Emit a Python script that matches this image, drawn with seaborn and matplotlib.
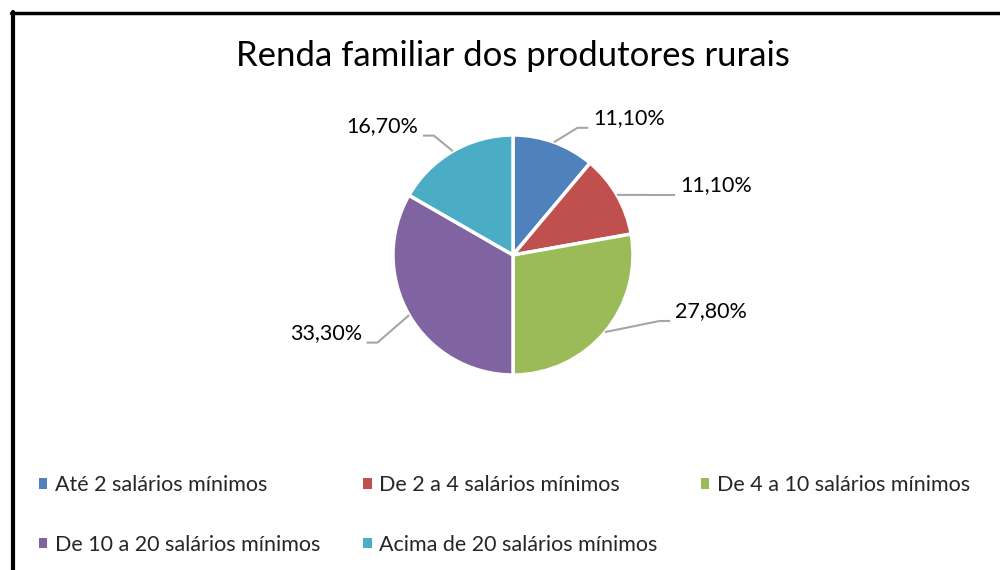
import numpy as np
import matplotlib.pyplot as plt
import seaborn as sns
from matplotlib.patches import Patch
from matplotlib.lines import Line2D

categories = [
    "Até 2 salários mínimos",
    "De 2 a 4 salários mínimos",
    "De 4 a 10 salários mínimos",
    "De 10 a 20 salários mínimos",
    "Acima de 20 salários mínimos",
]
percentages = [11.1, 11.1, 27.8, 33.3, 16.7]
value_labels = ["11,10%", "11,10%", "27,80%", "33,30%", "16,70%"]
colors = ["#4F81BD", "#C0504D", "#9BBB59", "#8064A2", "#4BACC6"]

# label anchor (x, y) in pie-radius units, and which side the text sits on
label_pos = [(0.667, 1.14), (1.39, 0.58), (1.35, -0.47), (-1.26, -0.65), (-0.79, 1.075)]

sns.set_theme(style="white")
plt.rcParams["font.family"] = ["Lato", "DejaVu Sans"]

fig = plt.figure(figsize=(10, 5.7), dpi=100)
ax = fig.add_axes([0.213, 75 / 570, 0.6, 480 / 570])

wedges, _ = ax.pie(
    percentages,
    colors=colors,
    startangle=90,
    counterclock=False,
    radius=1,
    wedgeprops=dict(edgecolor="white", linewidth=2.5),
)
ax.set_xlim(-2.5, 2.5)
ax.set_ylim(-2, 2)
ax.set_aspect("equal")
ax.axis("off")

# data labels with leader lines
for w, lab, (tx, ty) in zip(wedges, value_labels, label_pos):
    mid = np.deg2rad((w.theta1 + w.theta2) / 2)
    ex, ey = np.cos(mid), np.sin(mid)
    side = 1 if tx > 0 else -1
    ly = ty - 0.08
    end_x = tx - side * 0.04
    knee_x = end_x - side * 0.09
    ax.plot([ex, knee_x, end_x], [ey, ly, ly], color="#A6A6A6", lw=1.5,
            solid_capstyle="butt")
    ax.text(tx, ty, lab, fontsize=15.5, ha="left" if side > 0 else "right",
            va="center", color="black")

fig.suptitle("Renda familiar dos produtores rurais", fontsize=25, y=0.93,
             x=0.513, color="black")

# legend, row-major order for 3 columns
handles = [Patch(facecolor=c, edgecolor="none") for c in colors]
order = [0, 3, 1, 4, 2]
fig.legend(
    [handles[i] for i in order],
    [categories[i] for i in order],
    ncol=3,
    loc="upper left",
    bbox_to_anchor=(0.03, 0.182),
    bbox_transform=fig.transFigure,
    frameon=False,
    fontsize=15.5,
    handlelength=0.4,
    handleheight=0.4,
    handletextpad=0.35,
    columnspacing=2.0,
    labelspacing=1.85,
    borderaxespad=0,
)

# chart border (left and top edges visible in the crop)
fig.add_artist(Line2D([0.013, 0.013], [0, 1 - 12 / 570], transform=fig.transFigure,
                      color="black", lw=3))
fig.add_artist(Line2D([0.011, 1], [1 - 13 / 570, 1 - 13 / 570], transform=fig.transFigure,
                      color="black", lw=2.5))

fig.savefig("out.png", dpi=100, facecolor="white")
